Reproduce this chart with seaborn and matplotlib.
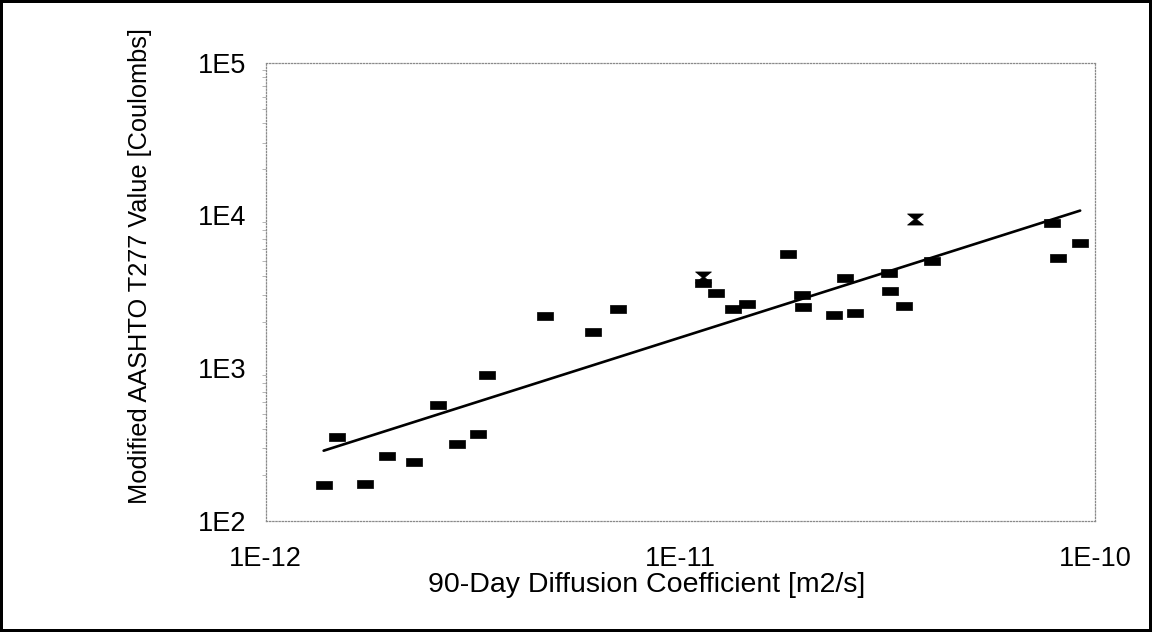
import numpy as np
import pandas as pd
import matplotlib
matplotlib.use("Agg")
import matplotlib.pyplot as plt
from matplotlib.path import Path
from matplotlib.ticker import FixedLocator, FuncFormatter, LogLocator, NullFormatter
import seaborn as sns

# 90-day diffusion coefficient [m2/s] vs modified AASHTO T277 charge [C]
diff_coef = [1.38e-12, 1.49e-12, 1.74e-12, 1.96e-12, 2.28e-12, 2.60e-12,
             2.90e-12, 3.26e-12, 3.41e-12, 4.73e-12, 6.15e-12, 7.08e-12,
             1.135e-11, 1.22e-11, 1.34e-11, 1.445e-11, 1.82e-11, 1.96e-11,
             1.98e-11, 2.35e-11, 2.50e-11, 2.64e-11, 3.18e-11, 3.20e-11,
             3.47e-11, 4.04e-11, 7.89e-11, 8.15e-11, 9.21e-11]
charge = [171, 355, 174, 267, 243, 570,
          317, 368, 904, 2193, 1714, 2449,
          3622, 3114, 2427, 2626, 5610, 3006,
          2523, 2235, 3890, 2302, 4170, 3200,
          2535, 5048, 8960, 5260, 6590]

# second marker type (hourglass)
hg_coef = [1.135e-11, 3.68e-11]
hg_charge = [3945, 9400]

# power-law trend line: log10(y) = fit_slope*log10(x) + fit_icpt
fit_slope = 0.862
fit_icpt = 12.682
fit_range = [1.38e-12, 9.21e-11]

x_ticks = [1e-12, 1e-11, 1e-10]
y_ticks = [1e2, 1e3, 1e4, 1e5]

sns.set_theme(style="white")
plt.rcParams['font.family'] = ['Liberation Sans', 'DejaVu Sans']
for k in ("text.color", "axes.labelcolor", "xtick.color", "ytick.color"):
    plt.rcParams[k] = "black"

df = pd.DataFrame({"D": diff_coef, "C": charge})
hg = pd.DataFrame({"D": hg_coef, "C": hg_charge})
fx = np.array(fit_range)
fit = pd.DataFrame({"D": fx, "C": 10 ** (fit_slope * np.log10(fx) + fit_icpt)})

rect = Path([(-1, -0.5), (1, -0.5), (1, 0.5), (-1, 0.5), (-1, -0.5)],
            [Path.MOVETO, Path.LINETO, Path.LINETO, Path.LINETO, Path.CLOSEPOLY])
hour = Path([(-1, 0.7), (1, 0.7), (0.15, 0), (1, -0.7), (-1, -0.7), (-0.15, 0), (-1, 0.7)],
            [Path.MOVETO] + [Path.LINETO] * 5 + [Path.CLOSEPOLY])

fig = plt.figure(figsize=(11.52, 6.32), dpi=100)
ax = fig.add_axes([0.2306, 0.1761, 0.9505 - 0.2306, 0.9008 - 0.1761])

sns.lineplot(data=fit, x="D", y="C", ax=ax, color="black", linewidth=1.9)
sns.scatterplot(data=df, x="D", y="C", ax=ax, marker=rect, s=135,
                color="black", edgecolor="black", linewidth=0.5, zorder=3)
sns.scatterplot(data=hg, x="D", y="C", ax=ax, marker=hour, s=130,
                color="black", edgecolor="black", linewidth=0.5, zorder=4)

ax.set_xscale("log")
ax.set_yscale("log")
ax.set_xlim(1e-12, 1e-10)
ax.set_ylim(1e2, 1e5)

fmt = FuncFormatter(lambda v, p: "1E%d" % round(np.log10(v)))
ax.xaxis.set_major_locator(FixedLocator(x_ticks))
ax.yaxis.set_major_locator(FixedLocator(y_ticks))
ax.xaxis.set_major_formatter(fmt)
ax.yaxis.set_major_formatter(fmt)
ax.yaxis.set_minor_locator(LogLocator(base=10, subs=np.arange(2, 10)))
ax.yaxis.set_minor_formatter(NullFormatter())
ax.xaxis.set_minor_formatter(NullFormatter())
ax.tick_params(axis="x", which="major", length=0, labelsize=19.5, pad=18)
ax.tick_params(axis="y", which="major", length=0, labelsize=19.5, pad=14)
ax.tick_params(axis="y", which="minor", length=3, width=0.6, color="#aaaaaa",
               direction="out", left=True)
ax.tick_params(axis="x", which="minor", length=0)

for s in ax.spines.values():
    s.set_linestyle((0, (1, 1.5)))
    s.set_color("#8a8a8a")
    s.set_linewidth(0.9)

ax.set_xlabel("90-Day Diffusion Coefficient [m2/s]", fontsize=20.5)
ax.xaxis.set_label_coords(0.459, -0.112)
ax.set_ylabel("Modified AASHTO T277 Value [Coulombs]", fontsize=18.3)
ax.yaxis.set_label_coords(-0.137, 0.556)

fig.patch.set_edgecolor("black")
fig.patch.set_linewidth(3)
fig.savefig("out.png", dpi=100, edgecolor=fig.get_edgecolor())
